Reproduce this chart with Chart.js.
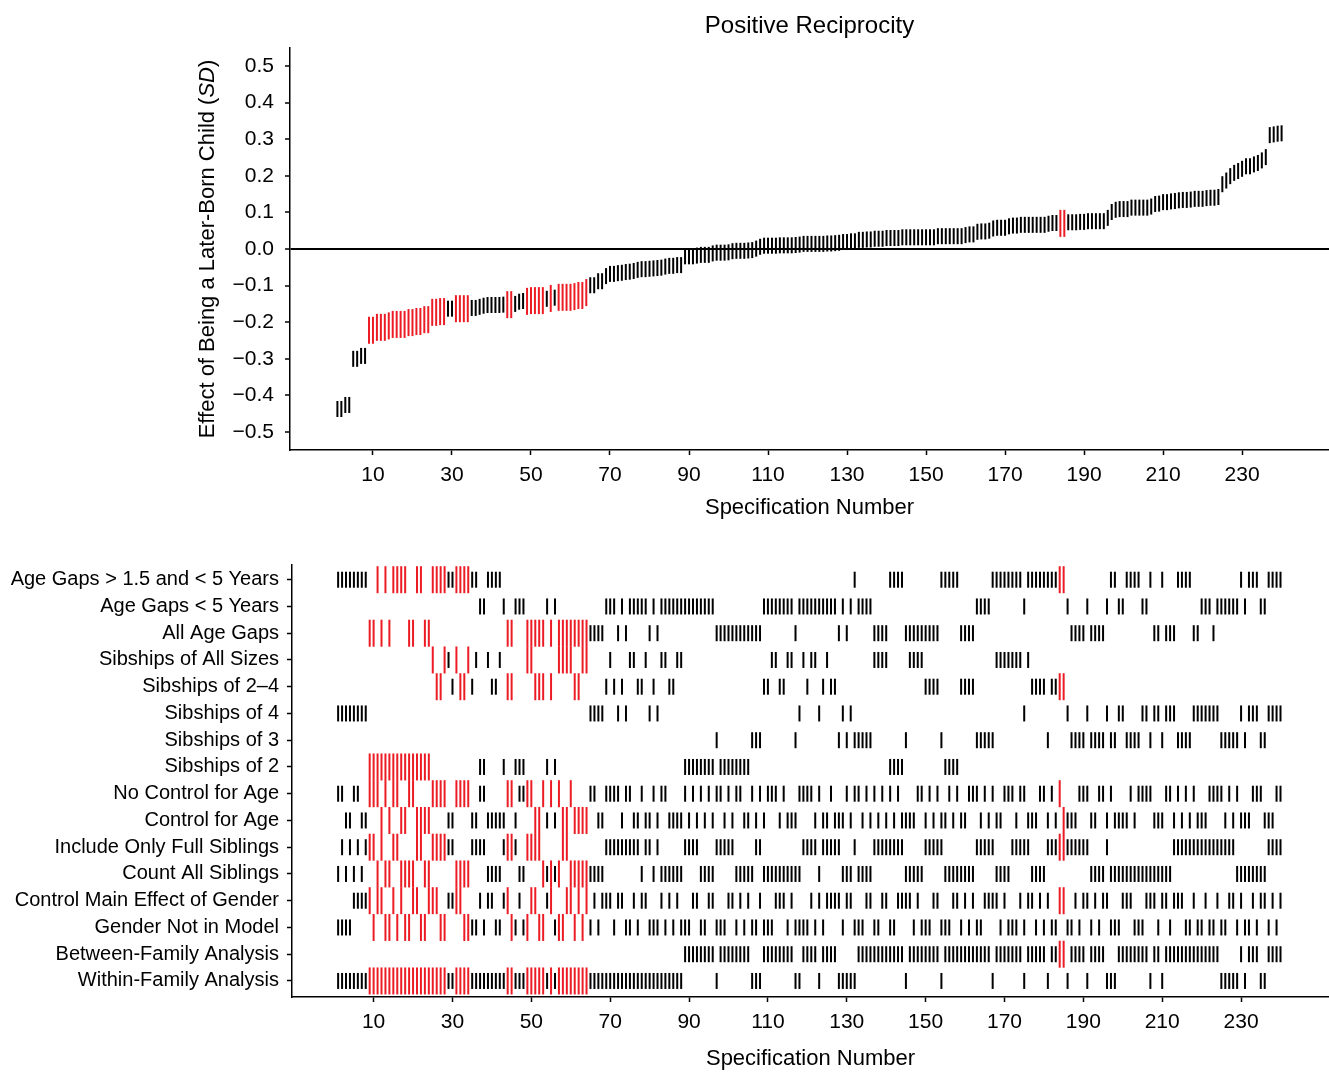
<!DOCTYPE html>
<html>
<head>
<meta charset="utf-8">
<title>Positive Reciprocity</title>
<script src="https://cdn.jsdelivr.net/npm/chart.js@4.4.1/dist/chart.umd.min.js"></script>
<style>
  html, body { margin: 0; padding: 0; background: #fff; overflow: hidden; }
  canvas { position: absolute; left: 0; top: 0; }
</style>
</head>
<body>
<canvas id="curve" width="1329" height="1072"></canvas>
<canvas id="specs" width="1329" height="1072"></canvas>
<script>
// effect of being a later-born child (SD), specifications sorted 1..240
const effect = [
  -0.437, -0.437, -0.426, -0.426, -0.300, -0.300, -0.292, -0.292, -0.222, -0.222,
  -0.214, -0.214, -0.214, -0.210, -0.206, -0.206, -0.206, -0.206, -0.201, -0.201,
  -0.198, -0.198, -0.193, -0.193, -0.173, -0.173, -0.171, -0.171, -0.163, -0.163,
  -0.163, -0.163, -0.163, -0.163, -0.161, -0.161, -0.158, -0.155, -0.153, -0.153,
  -0.153, -0.153, -0.152, -0.152, -0.152, -0.150, -0.144, -0.142, -0.143, -0.141,
  -0.141, -0.141, -0.141, -0.136, -0.135, -0.133, -0.132, -0.132, -0.132, -0.132,
  -0.130, -0.127, -0.127, -0.119, -0.099, -0.099, -0.088, -0.088, -0.074, -0.068,
  -0.068, -0.066, -0.065, -0.063, -0.062, -0.060, -0.057, -0.055, -0.055, -0.054,
  -0.053, -0.052, -0.051, -0.048, -0.046, -0.046, -0.044, -0.044, -0.020, -0.020,
  -0.020, -0.018, -0.016, -0.016, -0.016, -0.012, -0.010, -0.010, -0.010, -0.009,
  -0.006, -0.005, -0.005, -0.005, -0.004, -0.003, 0.001, 0.006, 0.009, 0.009,
  0.009, 0.009, 0.010, 0.010, 0.010, 0.010, 0.011, 0.012, 0.014, 0.014,
  0.014, 0.014, 0.014, 0.014, 0.015, 0.015, 0.016, 0.017, 0.019, 0.019,
  0.021, 0.021, 0.025, 0.025, 0.026, 0.026, 0.028, 0.028, 0.028, 0.030,
  0.030, 0.030, 0.030, 0.032, 0.032, 0.032, 0.032, 0.032, 0.032, 0.032,
  0.032, 0.032, 0.035, 0.035, 0.035, 0.035, 0.035, 0.035, 0.035, 0.038,
  0.040, 0.040, 0.047, 0.048, 0.048, 0.050, 0.056, 0.058, 0.058, 0.058,
  0.062, 0.064, 0.064, 0.066, 0.066, 0.066, 0.066, 0.066, 0.066, 0.066,
  0.069, 0.071, 0.071, 0.070, 0.070, 0.073, 0.073, 0.073, 0.074, 0.074,
  0.076, 0.076, 0.076, 0.076, 0.076, 0.085, 0.101, 0.107, 0.109, 0.109,
  0.109, 0.113, 0.113, 0.113, 0.113, 0.113, 0.116, 0.123, 0.124, 0.128,
  0.128, 0.130, 0.131, 0.133, 0.134, 0.134, 0.135, 0.137, 0.137, 0.137,
  0.139, 0.140, 0.140, 0.142, 0.177, 0.187, 0.199, 0.208, 0.213, 0.219,
  0.226, 0.226, 0.231, 0.235, 0.242, 0.251, 0.311, 0.313, 0.315, 0.316
];

// specifications drawn in red (significant)
const significant = '9-28 31-34 44-45 49-53 55 57-64 184-185';

const xTicks = [10, 30, 50, 70, 90, 110, 130, 150, 170, 190, 210, 230];
const yTicks = [-0.5, -0.4, -0.3, -0.2, -0.1, 0, 0.1, 0.2, 0.3, 0.4, 0.5];

const rowLabels = [
  'Age Gaps > 1.5 and < 5 Years',
  'Age Gaps < 5 Years',
  'All Age Gaps',
  'Sibships of All Sizes',
  'Sibships of 2\u20134',
  'Sibships of 4',
  'Sibships of 3',
  'Sibships of 2',
  'No Control for Age',
  'Control for Age',
  'Include Only Full Siblings',
  'Count All Siblings',
  'Control Main Effect of Gender',
  'Gender Not in Model',
  'Between-Family Analysis',
  'Within-Family Analysis'
];

// which specifications carry each choice (same order as rowLabels)
const rowSpecs = [
  '1-8 11 13 15-18 21-22 25-36 39-42 132 141-144 154-158 167-174 176-185 197-198 201-204 207 210 214-217 230 232-234 237-240',
  '37-38 43 46-48 54 56 69-71 73 75-79 81 83-96 109-116 118-127 129 131 133-136 163-166 175 186 191 196 199-200 205-206 220-222 224-229 231 235-236',
  '9-10 12 14 19-20 23-24 44-45 49-53 55 57-68 72 74 80 82 97-108 117 128 130 137-140 145-153 159-162 187-190 192-195 208-209 211-213 218-219 223',
  '25 28-29 31 34 36 39 42 49-50 57-60 63-64 70 75-76 79 83-84 87-88 111-112 115-116 119 121-122 125 137-140 146-149 168-174 176',
  '26-27 30 32-33 35 40-41 44-45 51-53 55 61-62 69 71 73 77-78 81 85-86 109-110 113-114 120 124 126-127 150-153 159-162 177-180 182-185',
  '1-8 65-68 72 74 80 82 118 123 129 131 175 186 191 196 199-200 205-206 208-209 211-213 218-224 230 232-234 237-240',
  '97 106-108 117 128 130 132-136 145 154 163-167 181 187-190 192-195 197-198 201-204 207 210 214-217 225-229 231 235-236',
  '9-24 37-38 43 46-48 54 56 89-96 98-105 141-144 155-158',
  '1-2 5-6 9-11 13 15-16 19-20 25-28 31-34 37-38 44-45 47-50 53 55 57 60 65-66 69-72 74-75 78 81 83-84 89 91 93 95 97-98 100 102-103 106 108 110-112 114 118-121 123 126 130 132-133 135 137 139 141 143 148-149 151 153 156 158 161-163 165 167 170-172 174-175 179-180 182 184 189-191 194-195 197 202 204-207 211-212 214 216 218 222-225 227 229 233-235 239-240',
  '3-4 7-8 12 14 17-18 21-24 29-30 35-36 39-43 46 51-52 54 56 58-59 61-64 67-68 73 76-77 79-80 82 85-88 90 92 94 96 99 101 104-105 107 109 113 115-117 122 124-125 127-129 131 134 136 138 140 142 144-147 150 152 154-155 157 159-160 164 166 168-169 173 176-178 181 183 185-188 192-193 196 198-201 203 208-210 213 215 217 219-221 226 228 230-232 236-238',
  '2 4 6 8-10 12 15-16 21-22 25-30 35-38 43-46 49-52 58-59 69-77 79-80 82 89-92 97-101 107-108 119-122 124-128 132 137-144 150-154 163-167 172-176 181-191 196 213-228 237-240',
  '1 3 5 7 11 13-14 17-20 23-24 31-34 39-42 47-48 53-57 60-68 78 81 83-88 93-96 102-106 109-118 123 129-131 133-136 145-149 155-162 168-171 177-180 192-195 197-212 229-236',
  '5-9 11-12 15 17 20-21 24-26 29-32 37 39-40 43-44 47 50-51 54-55 59-60 62 64 66 68-70 72-73 76 78-79 83 85 87 91-92 95-96 100-101 103 105 108 112-114 116 121 123 125-128 130-131 135-136 139-140 143-146 148 152-153 157-158 160 162 165-168 170 174 176-177 179 181 184-185 188 190-191 193 195-196 200-202 206-208 210-211 213-215 218 221 224 227-228 230 233 235-236 238 240',
  '1-4 10 13-14 16 18-19 22-23 27-28 33-36 38 41-42 45-46 48-49 52-53 56-58 61 63 65 67 71 74-75 77 80-82 84 86 88-90 93-94 97-99 102 104 106-107 109-111 115 117-120 122 124 129 132-134 137-138 141-142 147 149-151 154-156 159 161 163-164 169 171-173 175 178 180 182-183 186-187 189 192 194 197-199 203-205 209 212 216-217 219-220 222-223 225-226 229 231-232 234 237 239',
  '89-96 98-105 109-116 119-122 124-127 133-144 146-153 155-166 168-174 176-180 182-185 187-190 192-195 199-206 208-209 211-224 230 232-234 237-240',
  '1-88 97 106-108 117-118 123 128-132 145 154 167 175 181 186 191 196-198 207 210 225-229 231 235-236'
];

// "1-3 7" -> [1, 2, 3, 7]
function expand(list) {
  const out = [];
  list.trim().split(/\s+/).forEach(part => {
    const [a, b] = part.split('-').map(Number);
    for (let n = a; n <= (b || a); n++) out.push(n);
  });
  return out;
}

const FONT = "'Liberation Sans', Arial, Helvetica, sans-serif";
const RED = '#ec1c24';
const sigSet = new Set(expand(significant));

Chart.defaults.font.family = FONT;
Chart.defaults.color = '#000';
Chart.defaults.animation = false;
Chart.defaults.events = [];
Chart.defaults.plugins.legend.display = false;
Chart.defaults.plugins.tooltip.enabled = false;

const markRadius = ctx => (ctx.raw && sigSet.has(ctx.raw.x)) ? 13.5 : 8;
const markColor = ctx => (ctx.raw && sigSet.has(ctx.raw.x)) ? RED : '#000';

// x axis should span the whole plot region, no label padding at the ends
const fitX = h => s => { s.height = h; s.paddingLeft = 0; s.paddingRight = 0; };

// main title + y title with italic SD
const labelsPlugin = {
  id: 'rLabels',
  afterDraw(chart, args, opts) {
    if (!opts.title) return;
    const {ctx, chartArea} = chart;
    ctx.save();
    ctx.fillStyle = '#000';
    ctx.font = '24px ' + FONT;
    ctx.textAlign = 'center';
    ctx.textBaseline = 'alphabetic';
    ctx.fillText(opts.title, (chartArea.left + chartArea.right) / 2, opts.titleY);

    const parts = [['Effect of Being a Later-Born Child (', ''], ['SD', 'italic '], [')', '']];
    let total = 0;
    parts.forEach(p => { ctx.font = p[1] + '22px ' + FONT; total += ctx.measureText(p[0]).width; });
    ctx.translate(opts.yTitleX, (chartArea.top + chartArea.bottom) / 2);
    ctx.rotate(-Math.PI / 2);
    ctx.textAlign = 'left';
    let x = -total / 2;
    parts.forEach(p => {
      ctx.font = p[1] + '22px ' + FONT;
      ctx.fillText(p[0], x, 0);
      x += ctx.measureText(p[0]).width;
    });
    ctx.restore();
  }
};

// Top: specification curve
const curvePoints = effect.map((v, i) => ({x: i + 1, y: v}));

new Chart(document.getElementById('curve'), {
  type: 'scatter',
  plugins: [labelsPlugin],
  data: {
    datasets: [{
      data: curvePoints,
      pointStyle: 'line',
      pointRotation: 90,
      pointRadius: markRadius,
      pointBorderWidth: 2,
      pointBorderColor: markColor,
      pointBackgroundColor: markColor
    }]
  },
  options: {
    responsive: false,
    layout: { autoPadding: false, padding: { top: 48, bottom: 542, left: 0, right: 0 } },
    plugins: {
      rLabels: { title: 'Positive Reciprocity', titleY: 33, yTitleX: 214 }
    },
    scales: {
      x: {
        type: 'linear', min: -11, max: 252,
        afterBuildTicks: s => { s.ticks = xTicks.map(v => ({value: v})); },
        afterFit: fitX(80),
        grid: { drawOnChartArea: false, tickLength: 5, tickColor: '#000', tickWidth: 1.5 },
        border: { color: '#000', width: 1.5 },
        ticks: { font: { size: 21 }, padding: 8, maxRotation: 0, autoSkip: false, color: '#000' },
        title: { display: true, text: 'Specification Number', font: { size: 22 }, color: '#000', padding: { top: 0, bottom: 9 } }
      },
      y: {
        type: 'linear', min: -0.549, max: 0.549,
        afterBuildTicks: s => { s.ticks = yTicks.map(v => ({value: v})); },
        afterFit: s => { s.width = 290; },
        grid: {
          color: ctx => (ctx.tick && ctx.tick.value === 0) ? '#000' : 'rgba(0,0,0,0)',
          lineWidth: 2, tickLength: 5, tickColor: '#000', tickWidth: 1.5
        },
        border: { color: '#000', width: 1.5 },
        ticks: {
          font: { size: 21 }, padding: 11, color: '#000',
          callback: v => (v < 0 ? '\u2212' : '') + Math.abs(v).toFixed(1)
        }
      }
    }
  }
});

// Bottom: which choices make up each specification
const specPoints = [];
rowSpecs.forEach((list, r) => {
  expand(list).forEach(n => specPoints.push({x: n, y: r + 1}));
});

new Chart(document.getElementById('specs'), {
  type: 'scatter',
  data: {
    datasets: [{
      data: specPoints,
      pointStyle: 'line',
      pointRotation: 90,
      pointRadius: markRadius,
      pointBorderWidth: 2,
      pointBorderColor: markColor,
      pointBackgroundColor: markColor
    }]
  },
  options: {
    responsive: false,
    layout: { autoPadding: false, padding: { top: 565, bottom: 0, left: 0, right: 0 } },
    scales: {
      x: {
        type: 'linear', min: -10.7, max: 252.3,
        afterBuildTicks: s => { s.ticks = xTicks.map(v => ({value: v})); },
        afterFit: fitX(75),
        grid: { drawOnChartArea: false, tickLength: 5, tickColor: '#000', tickWidth: 1.5 },
        border: { color: '#000', width: 1.5 },
        ticks: { font: { size: 21 }, padding: 8, maxRotation: 0, autoSkip: false, color: '#000' },
        title: { display: true, text: 'Specification Number', font: { size: 22 }, color: '#000', padding: { top: 0, bottom: 0 } }
      },
      y: {
        type: 'linear', reverse: true, min: 0.45, max: 16.6,
        afterBuildTicks: s => { s.ticks = rowLabels.map((l, i) => ({value: i + 1})); },
        afterFit: s => { s.width = 292; },
        grid: { drawOnChartArea: false, tickLength: 5, tickColor: '#000', tickWidth: 1.5 },
        border: { color: '#000', width: 1.5 },
        ticks: { font: { size: 20 }, padding: 8, color: '#000', callback: v => rowLabels[v - 1] }
      }
    }
  }
});
</script>
</body>
</html>
